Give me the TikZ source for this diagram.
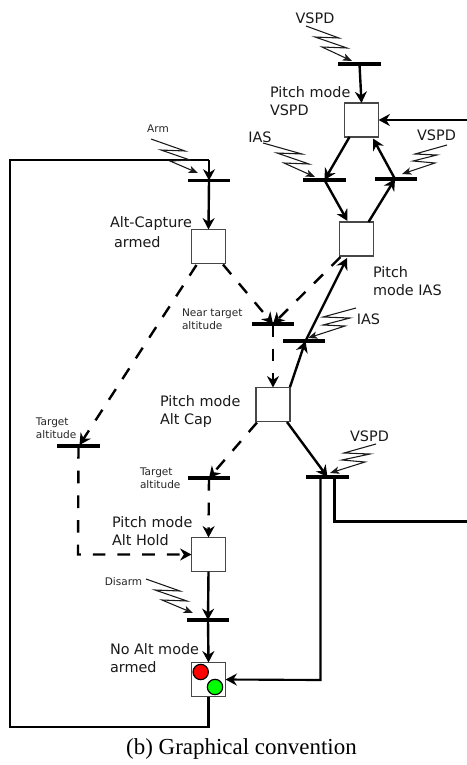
\documentclass[tikz,border=0pt]{standalone}
\usepackage{fontspec}
\setmainfont{DejaVu Sans}
\newfontfamily\capfont{Liberation Serif}
\usetikzlibrary{arrows.meta,calc}
\tikzset{
  statebox/.style={draw=black!72,line width=1pt,fill=white,minimum size=25.6pt,inner sep=0pt,outer sep=0pt},
  barnode/.style={fill=black,draw=none,minimum width=32pt,minimum height=2.9pt,inner sep=0pt,outer sep=0pt},
  tip/.style={-{Stealth[length=8.5pt,width=9pt,inset=2.8pt]}},
  conn/.style={line width=1.8pt,tip},
  plain/.style={line width=1.6pt},
  dashconn/.style={line width=1.8pt,dash pattern=on 9.5pt off 9pt,tip},
  zap/.style={line width=0.8pt,black!90,-{Stealth[length=7pt,width=5.5pt,inset=1.8pt]}},
  lab/.style={inner sep=0pt,outer sep=0pt,font=\fontsize{10.8pt}{13.5pt}\selectfont,align=left,text=black!90},
  small/.style={inner sep=0pt,outer sep=0pt,font=\fontsize{7.9pt}{9.8pt}\selectfont,align=left,text=black!85},
  lamp/.style={circle,draw=black,line width=0.9pt,minimum size=11.5pt,inner sep=0pt}
}
\begin{document}
\begin{tikzpicture}[x=0.75pt,y=-0.75pt]
\useasboundingbox (0,0) rectangle (467,765);
% state boxes
\node[statebox] (vspd) at (361.5,120) {};
\node[statebox] (ias) at (356.5,239) {};
\node[statebox] (armed) at (208.5,246.5) {};
\node[statebox] (cap) at (273,404.5) {};
\node[statebox] (hold) at (208.5,554.5) {};
\node[statebox] (none) at (208.5,679.5) {};
\node[lamp,fill=red] (redlamp) at (200.7,672) {};
\node[lamp,fill=green] (greenlamp) at (215,687) {};
% bars
\node[barnode] (bTop) at (359.5,64) {};
\node[barnode] (bIas) at (324.5,180) {};
\node[barnode] (bVs) at (396,179) {};
\node[barnode] (bArm) at (209,180.5) {};
\node[barnode] (bNear) at (273,324) {};
\node[barnode] (bIasLow) at (304,341) {};
\node[barnode] (bVsLow) at (327.5,477) {};
\node[barnode] (bTgtR) at (209,478) {};
\node[barnode] (bTgtL) at (78.5,446) {};
\node[barnode] (bDis) at (208,620) {};
% free ends
\coordinate (rightIn) at (467,120);
\coordinate (rightOut) at (467,521.5);
\coordinate (rightLow) at (334.5,521.5);
\coordinate (loopA) at (208.5,727);
\coordinate (loopB) at (10,727);
\coordinate (loopC) at (10,160);
\coordinate (loopD) at (209,160);
\coordinate (cornerL) at (78,554.5);
\coordinate (capR) at (320.5,680);
% solid connectors
\draw[conn] (bTop.center) -- (vspd.north);
\draw[conn] (rightIn) -- (vspd.east);
\draw[conn] ([shift={(-12,17)}]vspd.center) -- (bIas.center);
\draw[conn] (bIas.center) -- ([shift={(-9,-18)}]ias.center);
\draw[conn] ([shift={(12,-17)}]ias.center) -- ([shift={(-1,0)}]bVs.center);
\draw[conn] ([shift={(-1,0)}]bVs.center) -- ([shift={(11.5,18.5)}]vspd.center);
\draw[plain] (none.south) -- (loopA) -- (loopB) -- (loopC) -- (loopD);
\draw[conn,line width=1.6pt] (loopD) -- (bArm.center);
\draw[conn] (bArm.center) -- (armed.north);
\draw[conn] ([shift={(17,-17.5)}]cap.center) -- ([shift={(1.5,0)}]bIasLow.center);
\draw[conn] ([shift={(1.5,0)}]bIasLow.center) -- ([shift={(-9.5,19)}]ias.center);
\draw[conn] ([shift={(14,17.5)}]cap.center) -- (bVsLow.center);
\draw[conn,line width=1.6pt] ([shift={(-7,0)}]bVsLow.center) |- (capR) -- (none.east);
\draw[plain] ([shift={(7,0)}]bVsLow.center) -- (rightLow) -- (rightOut);
\draw[conn] (hold.south) -- (bDis.center);
\draw[conn] (bDis.center) -- (none.north);
% dashed connectors
\draw[dashconn] ([shift={(14.5,18)}]armed.center) -- (bNear.center);
\draw[dashconn] ([shift={(-12,18.5)}]armed.center) -- ([shift={(1,-1)}]bTgtL.center);
\draw[dashconn] ([shift={(-16,18)}]ias.center) -- (bNear.center);
\draw[dashconn] (bNear.center) -- (cap.north);
\draw[dashconn] ([shift={(-16,18)}]cap.center) -- (bTgtR.center);
\draw[dashconn] (bTgtR.center) -- (hold.north);
\draw[dashconn] (bTgtL.center) -- (cornerL) -- (hold.west);
% event arrows
\draw[zap] (306,26) -- (339,38) -- (315,37) -- (347,48) -- (322,47) -- (352,61);
\draw[zap] (263,143) -- (302,154) -- (277,153) -- (309,164) -- (284,163) -- (315,177);
\draw[zap] (447,145) -- (415,154) -- (437,155) -- (413,161) -- (435,163) -- (402,174);
\draw[zap] (151,139) -- (185,151) -- (161,150) -- (190,160) -- (170,161) -- (198,173);
\draw[zap] (356,308) -- (323,317) -- (350,318) -- (323,325) -- (345,326) -- (308,338);
\draw[zap] (376,444) -- (344,453) -- (370,454) -- (342,460) -- (365,462) -- (330,473);
\draw[zap] (146,579) -- (180,591) -- (155,590) -- (187,601) -- (162,600) -- (193,613);
% labels
\node[lab] (l1) at (315,18) {VSPD};
\node[lab,anchor=west] (l2) at (270,101) {Pitch mode\\VSPD};
\node[lab] (l3) at (260,137) {IAS};
\node[lab] (l4) at (436.5,135) {VSPD};
\node[small] (l5) at (158,129) {Arm};
\node[lab,anchor=west] (l6) at (110,224) {Alt-Capture};
\node[lab,anchor=west] (l6b) at (114,242) {armed};
\node[small,anchor=west] (l7) at (182,319.5) {Near target\\altitude};
\node[lab,anchor=west] (l8) at (373,281.5) {Pitch\\mode IAS};
\node[lab] (l9) at (368.5,319) {IAS};
\node[lab,anchor=west] (l10) at (160,411.5) {Pitch mode\\Alt Cap};
\node[lab] (l11) at (369.5,436) {VSPD};
\node[small,anchor=west] (l12) at (36,428.5) {Target\\altitude};
\node[small,anchor=west] (l13) at (140,478) {Target\\altitude};
\node[lab,anchor=west] (l14) at (112,531) {Pitch mode\\Alt Hold};
\node[small] (l15) at (123.5,582) {Disarm};
\node[lab,anchor=west] (l16) at (110,658) {No Alt mode\\armed};
\node[inner sep=0pt,font=\capfont\fontsize{17.2pt}{20pt}\selectfont] (cap0) at (241.5,749) {(b) Graphical convention};
\end{tikzpicture}
\end{document}
